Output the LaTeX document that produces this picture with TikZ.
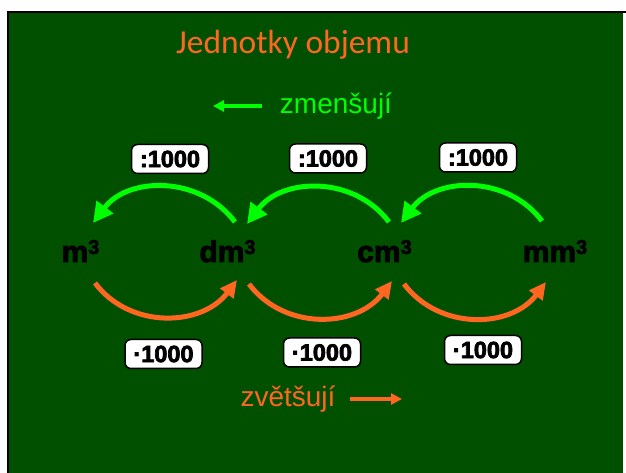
\documentclass[tikz,border=0pt]{standalone}
\usepackage{fontspec}
\setmainfont{Liberation Sans}
\newfontfamily\titlefont{Carlito}
\newfontfamily\heavyfont{Liberation Sans}[BoldFeatures={FakeBold=3}]
\usetikzlibrary{arrows.meta}
\definecolor{bgg}{RGB}{0,80,0}
\definecolor{lgreen}{RGB}{0,255,0}
\definecolor{orng}{RGB}{255,102,32}
\newcommand\cubx{\raisebox{8pt}{\fontsize{20}{20}\selectfont 3}}
\begin{document}
\begin{tikzpicture}[x=1pt,y=1pt,
 unit/.style={font=\heavyfont\fontsize{30}{30}\selectfont\bfseries, text=black, inner sep=0pt, anchor=base},
 opbox/.style={draw=black, line width=1.5pt, fill=white, rounded corners=6pt, minimum width=77pt, minimum height=29pt, inner sep=0pt, font=\heavyfont\fontsize{23.5}{23.5}\selectfont\bfseries},
 garc/.style={draw=lgreen, line width=5pt, -{Triangle[length=20pt,width=20pt]}},
 oarc/.style={draw=orng, line width=5pt, -{Triangle[length=17pt,width=16pt]}},
 gsmall/.style={draw=lgreen, line width=4pt, -{Triangle[length=11pt,width=11pt]}},
 osmall/.style={draw=orng, line width=4pt, -{Triangle[length=11pt,width=11pt]}},
]
\useasboundingbox (0,0) rectangle (626,473);
\fill[bgg] (8,0) rectangle (623,460);
\draw[black, line width=2pt] (8,0) -- (8,460.5) -- (626,460.5);

\node[font=\titlefont\fontsize{33.5}{33.5}\selectfont, text=orng, anchor=base, inner sep=0pt] (title) at (293,419) {Jednotky objemu};

\node[font=\fontsize{28}{28}\selectfont, text=lgreen, anchor=base, inner sep=0pt] (zmen) at (336,359) {zmenšují};
\coordinate (zs) at (262,367);
\coordinate (ze) at (213,367);
\draw[gsmall] (zs) -- (ze);

\node[font=\fontsize{28}{28}\selectfont, text=orng, anchor=base, inner sep=0pt] (zvet) at (288,66) {zvětšují};
\coordinate (vs) at (350,74);
\coordinate (ve) at (402,74);
\draw[osmall] (vs) -- (ve);

\node[unit] (m) at (80.5,211) {m\cubx};
\node[unit] (dm) at (227.5,211) {dm\cubx};
\node[unit] (cm) at (384.5,211) {cm\cubx};
\node[unit] (mm) at (555,211) {mm\cubx};

\node[opbox] (d1) at (170,314) {:1000};
\node[opbox] (d2) at (328,314.5) {:1000};
\node[opbox] (d3) at (478,315.5) {:1000};
\node[opbox] (k1) at (163.5,119) {·1000};
\node[opbox] (k2) at (322,120.5) {·1000};
\node[opbox] (k3) at (483,123) {·1000};

\coordinate (g1s) at (235,251); \coordinate (g1e) at (93,250);
\coordinate (g2s) at (389,251); \coordinate (g2e) at (247,249);
\coordinate (g3s) at (542,252); \coordinate (g3e) at (401,250);
\draw[garc] (g1s) to[out=127,in=53,looseness=1.05] (g1e);
\draw[garc] (g2s) to[out=127,in=53,looseness=1.05] (g2e);
\draw[garc] (g3s) to[out=127,in=53,looseness=1.05] (g3e);

\coordinate (o1s) at (95,190); \coordinate (o1e) at (237,193);
\coordinate (o2s) at (249,189); \coordinate (o2e) at (392,192);
\coordinate (o3s) at (404,189); \coordinate (o3e) at (546,191);
\draw[oarc] (o1s) to[out=-53,in=-127,looseness=1.05] (o1e);
\draw[oarc] (o2s) to[out=-53,in=-127,looseness=1.05] (o2e);
\draw[oarc] (o3s) to[out=-53,in=-127,looseness=1.05] (o3e);
\end{tikzpicture}
\end{document}
